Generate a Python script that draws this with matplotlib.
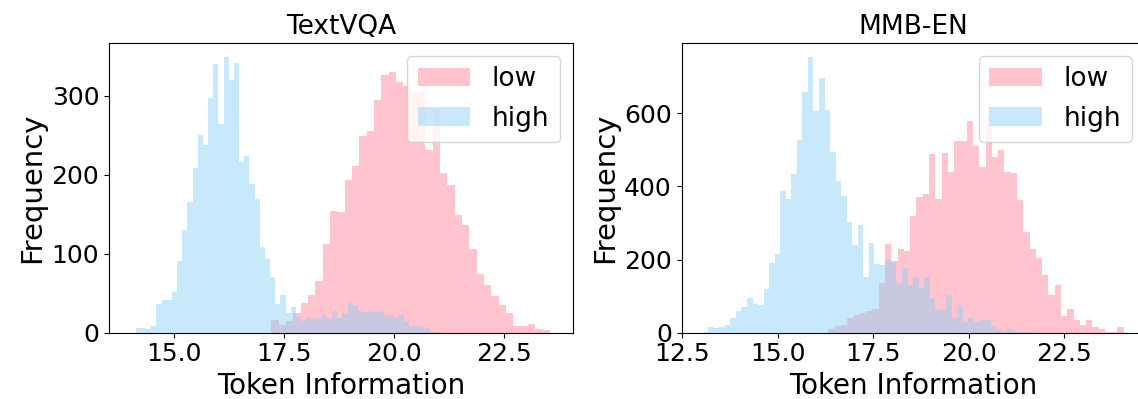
import numpy as np
import matplotlib
matplotlib.use("Agg")
import matplotlib.pyplot as plt
from matplotlib.ticker import MultipleLocator, FormatStrFormatter

# bin counts (start, bin width, counts per bin)
tv_low_start, tv_low_width = 17.21, 0.1667
tv_low = [16, 10, 15, 25, 37, 48, 66, 112, 154, 153, 194, 211, 249, 255, 295,
          327, 330, 318, 312, 305, 305, 232, 284, 202, 187, 149, 136, 106, 75,
          60, 46, 35, 25, 8, 8, 11, 5, 3]
tv_high_start, tv_high_width = 14.13, 0.1174
tv_high = [6, 6, 5, 9, 36, 41, 41, 51, 91, 130, 166, 209, 251, 238, 297, 340,
           264, 350, 320, 342, 216, 224, 189, 169, 108, 93, 70, 36, 48, 25, 32,
           20, 15, 20, 17, 18, 22, 17, 27, 18, 25, 37, 34, 27, 26, 27, 26, 27,
           22, 22, 20, 22, 15, 8, 8, 7, 6, 1, 1, 0]

mmb_low_start, mmb_low_width = 16.33, 0.1643
mmb_low = [9, 18, 21, 39, 48, 55, 60, 64, 135, 242, 195, 230, 224, 319, 371,
           380, 489, 366, 491, 439, 525, 525, 580, 510, 453, 590, 480, 500,
           440, 436, 362, 275, 230, 203, 157, 103, 130, 45, 64, 36, 21, 34, 15,
           9, 3, 1, 15]
mmb_high_start, mmb_high_width = 13.04, 0.1448
mmb_high = [3, 15, 12, 15, 21, 39, 59, 69, 96, 78, 75, 120, 191, 215, 386, 365,
            433, 528, 657, 755, 605, 695, 609, 495, 416, 375, 303, 239, 294,
            151, 245, 187, 185, 200, 194, 135, 176, 130, 153, 121, 153, 94, 66,
            62, 103, 44, 75, 30, 39, 30, 36, 34, 17, 10, 4, 11, 4, 2, 1, 1]

panels = [
    ("TextVQA", (tv_low_start, tv_low_width, tv_low),
     (tv_high_start, tv_high_width, tv_high), (13.52, 24.07)),
    ("MMB-EN", (mmb_low_start, mmb_low_width, mmb_low),
     (mmb_high_start, mmb_high_width, mmb_high), (12.49, 24.60)),
]

fig = plt.figure(figsize=(11.38, 3.99), dpi=100)
axes = [fig.add_axes([0.0958, 0.1662, 0.4077, 0.7268]),
        fig.add_axes([0.5990, 0.1662, 0.4069, 0.7268])]


def draw(ax, spec, color, alpha, label):
    start, width, counts = spec
    edges = start + width * np.arange(len(counts) + 1)
    ax.hist(edges[:-1], bins=edges, weights=counts, color=color,
            alpha=alpha, label=label)


for ax, (title, low, high, xlim) in zip(axes, panels):
    draw(ax, low, "lightpink", 0.8, "low")
    draw(ax, high, "lightskyblue", 0.45, "high")
    ax.set_xlim(*xlim)
    ax.xaxis.set_major_locator(MultipleLocator(2.5))
    ax.xaxis.set_major_formatter(FormatStrFormatter("%.1f"))
    ax.set_title(title, fontsize=19)
    ax.set_xlabel("Token Information", fontsize=20)
    ax.set_ylabel("Frequency", fontsize=21)
    ax.tick_params(labelsize=18)
    ax.legend(loc="upper right", fontsize=19)

fig.savefig("out.png", dpi=100)
